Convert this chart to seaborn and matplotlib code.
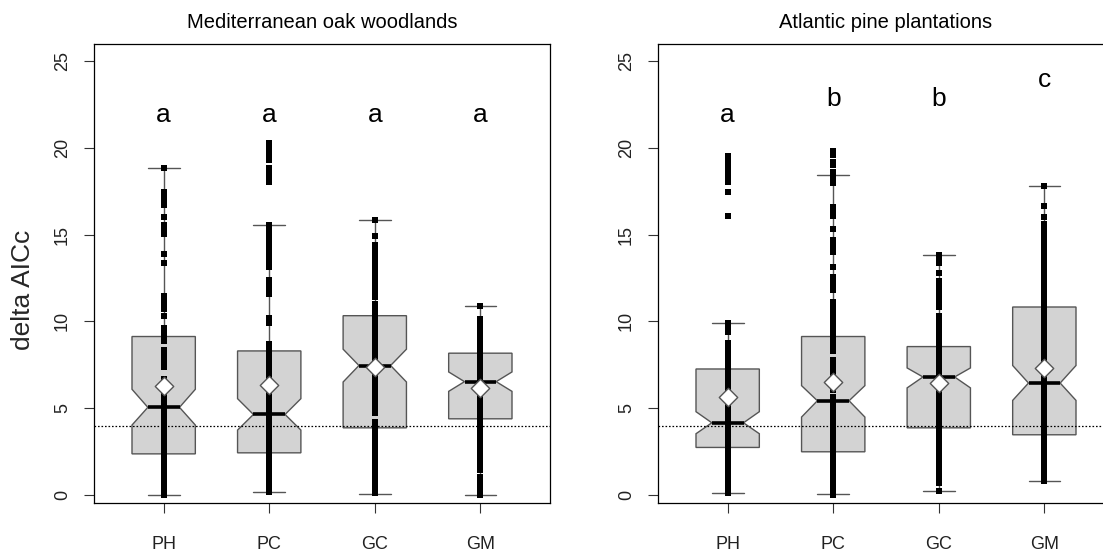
import numpy as np
import pandas as pd
import matplotlib
matplotlib.use("Agg")
import matplotlib.pyplot as plt
import seaborn as sns

groups = ["PH", "PC", "GC", "GM"]

# ---------------- Mediterranean oak woodlands ----------------
med_title = "Mediterranean oak woodlands"
med_ph = [0.0, 0.25, 0.5, 0.75, 1.0, 1.3, 1.65, 1.9, 2.2, 2.5, 2.8, 3.1, 3.4, 3.7, 4.0, 4.3,
          4.6, 4.9, 5.2, 5.5, 5.8, 6.1, 6.4, 6.7, 7.35, 7.6, 7.85, 8.1, 8.35, 8.85, 9.05, 9.3,
          9.6, 10.3, 10.7, 10.95, 11.2, 11.45, 13.35, 13.9, 15.05, 15.3, 15.55, 16.0, 16.7,
          16.95, 17.2, 17.45, 18.85]
med_pc = [0.15, 0.4, 0.7, 0.95, 1.2, 1.5, 1.8, 2.1, 2.4, 2.7, 3.0, 3.3, 3.6, 3.9, 4.2, 4.5,
          4.8, 5.1, 5.4, 5.7, 6.0, 6.3, 6.6, 6.9, 7.2, 7.5, 7.8, 8.1, 8.45, 8.7, 9.9, 10.2,
          11.6, 11.85, 12.1, 12.4, 13.15, 13.4, 13.65, 13.9, 14.2, 14.5, 14.75, 15.0, 15.3,
          15.53, 18.05, 18.3, 18.6, 18.85, 19.3, 19.55, 19.8, 20.05, 20.3]
med_gc = [0.1, 0.4, 0.65, 0.9, 1.2, 1.5, 1.8, 2.1, 2.4, 2.7, 3.0, 3.3, 3.6, 3.9, 4.2, 4.75,
          5.0, 5.3, 5.6, 5.9, 6.2, 6.5, 6.8, 7.1, 7.4, 7.7, 8.0, 8.3, 8.6, 8.9, 9.2, 9.5,
          9.75, 10.0, 10.3, 10.55, 10.8, 11.0, 11.4, 11.7, 12.0, 12.3, 12.6, 12.9, 13.2, 13.5,
          13.8, 14.1, 14.4, 14.9, 15.84]
med_gm = [0.0, 0.25, 0.55, 0.8, 1.05, 1.45, 1.75, 2.0, 2.3, 2.6, 2.9, 3.2, 3.5, 3.8, 4.1, 4.4,
          4.7, 5.0, 5.3, 5.6, 5.9, 6.2, 6.5, 6.8, 7.1, 7.4, 7.7, 8.0, 8.3, 8.6, 8.9, 9.2,
          9.5, 9.8, 10.15, 10.87]
med_q1 = [2.37, 2.43, 3.87, 4.39]
med_median = [5.05, 4.64, 7.46, 6.53]
med_q3 = [9.13, 8.30, 10.33, 8.17]
med_whislo = [0.0, 0.15, 0.08, 0.0]
med_whishi = [18.85, 15.53, 15.84, 10.87]
med_notch_lo = [4.03, 3.74, 6.51, 5.97]
med_notch_hi = [6.09, 5.55, 8.40, 7.09]
med_mean = [6.28, 6.36, 7.38, 6.15]
med_letters = ["a", "a", "a", "a"]
med_letter_y = [21.47, 21.47, 21.47, 21.47]

# ---------------- Atlantic pine plantations ----------------
atl_title = "Atlantic pine plantations"
atl_ph = [0.13, 0.3, 0.6, 0.85, 1.05, 1.3, 1.6, 1.9, 2.2, 2.5, 2.8, 3.1, 3.4, 3.7, 4.0, 4.3,
          4.6, 4.9, 5.2, 5.5, 5.8, 6.1, 6.4, 6.7, 7.0, 7.3, 7.6, 7.9, 8.2, 8.5, 8.75, 9.4,
          9.65, 9.88, 16.07, 17.48, 18.05, 18.3, 18.55, 18.8, 19.1, 19.3, 19.5]
atl_pc = [0.0, 0.2, 0.4, 0.65, 0.9, 1.2, 1.5, 1.8, 2.1, 2.4, 2.7, 3.0, 3.3, 3.6, 3.9, 4.2,
          4.5, 4.8, 5.1, 5.4, 5.65, 6.05, 6.3, 6.6, 6.9, 7.2, 7.5, 7.75, 8.3, 8.55, 8.8, 9.1,
          9.4, 9.75, 10.0, 10.3, 10.6, 10.85, 11.1, 11.8, 12.05, 12.3, 12.55, 13.16, 14.0,
          14.25, 14.5, 14.7, 15.3, 16.1, 16.35, 16.6, 17.95, 18.2, 18.43, 18.6, 19.0, 19.2,
          19.6, 19.8]
atl_gc = [0.25, 0.7, 0.95, 1.2, 1.5, 1.8, 2.1, 2.4, 2.7, 3.05, 3.3, 3.6, 3.9, 4.2, 4.5, 4.8,
          5.1, 5.4, 5.7, 6.0, 6.3, 6.6, 6.9, 7.2, 7.5, 7.8, 8.1, 8.4, 8.7, 9.0, 9.3, 9.55,
          9.7, 10.05, 10.3, 10.85, 11.1, 11.4, 11.7, 12.0, 12.3, 12.77, 13.35, 13.6, 13.83]
atl_gm = [0.83, 1.1, 1.4, 1.7, 2.0, 2.3, 2.6, 2.9, 3.2, 3.5, 3.8, 4.1, 4.45, 4.7, 5.0, 5.3,
          5.6, 5.9, 6.2, 6.5, 6.8, 7.1, 7.4, 7.7, 8.0, 8.35, 8.55, 8.85, 9.2, 9.5, 9.8, 10.1,
          10.4, 10.7, 11.0, 11.3, 11.55, 11.8, 12.1, 12.4, 12.65, 12.85, 13.0, 13.25, 13.45,
          13.7, 14.0, 14.3, 14.6, 14.9, 15.1, 15.35, 15.6, 16.0, 16.65, 17.78]
atl_q1 = [2.74, 2.49, 3.87, 3.47]
atl_median = [4.16, 5.43, 6.80, 6.45]
atl_q3 = [7.26, 9.13, 8.55, 10.83]
atl_whislo = [0.13, 0.06, 0.25, 0.83]
atl_whishi = [9.88, 18.45, 13.83, 17.78]
atl_notch_lo = [3.53, 4.49, 6.17, 5.45]
atl_notch_hi = [4.80, 6.30, 7.32, 7.46]
atl_mean = [5.63, 6.53, 6.45, 7.32]
atl_letters = ["a", "b", "b", "c"]
atl_letter_y = [21.47, 22.41, 22.41, 23.52]

y_label = "delta AICc"
y_ticks = [0, 5, 10, 15, 20, 25]
threshold = 4

sns.set_style("ticks")
plt.rcParams["font.family"] = ["Liberation Sans", "DejaVu Sans"]

W, H = 1103, 556
fig = plt.figure(figsize=(W / 100, H / 100), dpi=100)
axL = fig.add_axes([94 / W, 53 / H, 456 / W, 459 / H])
axR = fig.add_axes([658 / W, 53 / H, 456 / W, 459 / H])

EDGE = "#555555"


def draw(ax, pts, q1, med, q3, wlo, whi, nlo, nhi, means, letters, letter_y, title):
    df = pd.DataFrame({
        "group": np.repeat(groups, [len(p) for p in pts]),
        "value": np.concatenate([np.asarray(p, float) for p in pts]),
    })
    stats = []
    for i in range(len(groups)):
        stats.append(dict(q1=q1[i], med=med[i], q3=q3[i], whislo=wlo[i], whishi=whi[i],
                          cilo=nlo[i], cihi=nhi[i], fliers=[], label=groups[i]))
    ax.bxp(stats, positions=range(len(groups)), widths=0.6, shownotches=True, patch_artist=True,
           showfliers=False, manage_ticks=False,
           boxprops=dict(facecolor="#d3d3d3", edgecolor=EDGE, linewidth=1.0, zorder=1),
           whiskerprops=dict(color=EDGE, linewidth=1.0, zorder=1),
           capprops=dict(color=EDGE, linewidth=1.0, zorder=1),
           medianprops=dict(color="black", linewidth=2.6, zorder=4))
    ax.axhline(threshold, color="black", linewidth=0.9, linestyle=(0, (1.3, 1.5)), zorder=2)
    sns.stripplot(data=df, x="group", y="value", order=groups, jitter=False, marker="s",
                  size=4.3, color="black", linewidth=0, ax=ax, zorder=3)
    ax.scatter(range(len(groups)), means, marker="D", s=88, facecolor="white",
               edgecolor=EDGE, linewidth=1.0, zorder=5)
    for i, (lt, ly) in enumerate(zip(letters, letter_y)):
        ax.text(i, ly, lt, ha="center", va="baseline", fontsize=19, color="black")
    ax.set_xlim(-0.66, 3.66)
    ax.set_ylim(-0.46, 25.98)
    ax.set_yticks(y_ticks)
    ax.set_yticklabels([str(t) for t in y_ticks], rotation=90, va="center")
    ax.set_xticks(range(len(groups)))
    ax.set_xticklabels(groups)
    ax.set_xlabel("")
    ax.set_ylabel("")
    ax.tick_params(axis="both", direction="out", length=7.5, width=0.8, color="#333333",
                   labelsize=13, labelcolor="#222222")
    ax.tick_params(axis="x", pad=16)
    ax.tick_params(axis="y", pad=9)
    for s in ax.spines.values():
        s.set_color("black")
        s.set_linewidth(0.9)
    ax.grid(False)
    ax.text(0.5, 1 + 22 / 459, title, transform=ax.transAxes, ha="center", va="center",
            fontsize=14.5, color="black")


draw(axL, [med_ph, med_pc, med_gc, med_gm], med_q1, med_median, med_q3, med_whislo,
     med_whishi, med_notch_lo, med_notch_hi, med_mean, med_letters, med_letter_y, med_title)
draw(axR, [atl_ph, atl_pc, atl_gc, atl_gm], atl_q1, atl_median, atl_q3, atl_whislo,
     atl_whishi, atl_notch_lo, atl_notch_hi, atl_mean, atl_letters, atl_letter_y, atl_title)

fig.text(23 / W, 1 - 290 / H, y_label, rotation=90, ha="center", va="center", fontsize=19)

fig.savefig("out.png", dpi=100)
